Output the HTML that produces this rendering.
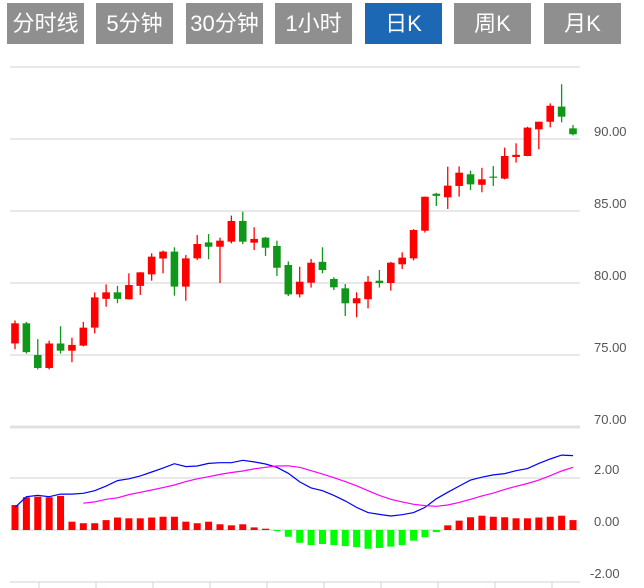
<!DOCTYPE html>
<html><head><meta charset="utf-8"><style>
body{margin:0;background:#fff;width:644px;height:588px;overflow:hidden;font-family:"Liberation Sans","Noto Sans CJK SC",sans-serif}
.tab{position:absolute;top:3px;height:41px;width:77px;background:#8f8f8f;color:#fff;font-size:22px;line-height:41px;text-align:center}
.tab.on{background:#1c68b4}
svg{position:absolute;left:0;top:0}
</style></head><body>
<div class="tab" style="left:7px">分时线</div>
<div class="tab" style="left:96px">5分钟</div>
<div class="tab" style="left:186px">30分钟</div>
<div class="tab" style="left:275px">1小时</div>
<div class="tab on" style="left:365px">日K</div>
<div class="tab" style="left:454px">周K</div>
<div class="tab" style="left:544px">月K</div>
<svg id="c" width="644" height="588"></svg>
<script>
const opens=[75.8,77.2,75.0,74.1,75.8,75.3,75.65,76.9,78.9,79.35,78.87,79.8,80.6,81.7,82.18,79.75,81.71,82.82,82.52,82.87,84.31,82.8,83.15,82.57,81.25,79.21,80.02,81.47,80.28,79.63,78.59,78.87,80.16,80.0,81.3,81.71,83.63,86.2,85.95,86.74,87.55,86.82,87.39,87.25,88.75,88.82,90.67,91.2,92.25,90.74];
const closes=[77.2,75.2,74.1,75.8,75.3,75.7,76.9,79.0,79.35,78.9,79.86,80.74,81.83,82.18,79.75,81.71,82.71,82.52,82.94,84.31,82.87,83.06,82.45,81.06,79.21,80.09,81.41,80.9,79.7,78.59,78.94,80.09,80.0,81.41,81.76,83.68,85.99,86.05,86.76,87.66,86.85,87.2,87.32,88.82,88.9,90.79,91.2,92.31,91.55,90.33];
const highs=[77.4,77.3,76.1,76.0,77.0,76.2,77.3,79.35,79.9,79.8,80.67,80.75,82.06,82.25,82.48,81.94,83.33,83.4,83.15,84.68,84.95,83.87,83.2,82.94,81.5,81.13,81.67,82.48,80.4,79.93,79.35,80.49,80.9,81.47,82.13,83.74,86.0,86.26,88.08,88.1,87.8,88.0,88.12,89.4,89.7,90.85,91.2,92.47,93.8,90.97];
const lows=[75.4,75.1,74.0,74.0,75.1,74.5,75.6,76.5,78.35,78.6,78.85,79.17,80.16,80.67,79.12,78.77,81.6,81.65,80.0,82.75,82.7,82.29,81.88,80.49,79.1,79.0,79.68,80.67,79.51,77.71,77.62,78.24,79.68,79.47,80.97,81.57,83.5,85.35,85.14,86.0,86.46,86.3,86.74,87.2,88.36,88.8,89.28,90.81,91.16,90.25];
const macdHist=[0.96,1.26,1.28,1.26,1.31,0.32,0.26,0.26,0.38,0.48,0.45,0.45,0.48,0.51,0.51,0.32,0.26,0.32,0.22,0.18,0.22,0.10,0.05,-0.02,-0.26,-0.49,-0.58,-0.54,-0.58,-0.62,-0.66,-0.72,-0.69,-0.64,-0.58,-0.41,-0.28,-0.08,0.18,0.36,0.49,0.55,0.51,0.49,0.45,0.45,0.48,0.51,0.55,0.38];
const difLine=[0.87,1.28,1.33,1.28,1.38,1.38,1.41,1.51,1.69,1.90,1.97,2.08,2.23,2.38,2.55,2.44,2.46,2.56,2.59,2.59,2.68,2.62,2.54,2.41,2.18,1.85,1.62,1.51,1.33,1.12,0.87,0.67,0.60,0.54,0.59,0.67,0.87,1.20,1.45,1.69,1.92,2.03,2.12,2.17,2.28,2.36,2.56,2.73,2.88,2.86];
const deaLine=[null,null,null,null,null,null,1.03,1.08,1.18,1.24,1.36,1.45,1.54,1.63,1.73,1.86,1.97,2.05,2.14,2.21,2.27,2.35,2.41,2.46,2.47,2.41,2.28,2.15,2.01,1.86,1.70,1.51,1.33,1.18,1.08,0.99,0.94,0.91,0.96,1.06,1.18,1.31,1.42,1.56,1.68,1.79,1.92,2.09,2.27,2.41];
const priceTicks=[70,75,80,85,90,95];
const macdTicks=[-2,0,2];
const NS="http://www.w3.org/2000/svg";
const svg=document.getElementById('c');
const N=opens.length;
const xAt=i=>15+i*(558/(N-1));
const yP=v=>427-(v-70)*14.4;
const yM=v=>530-v*26;
function mk(t,a,p){const e=document.createElementNS(NS,t);for(const k in a)e.setAttribute(k,a[k]);(p||svg).appendChild(e);return e;}
// price grid
priceTicks.forEach(t=>{
  const l=mk('line',{x1:10,x2:580,y1:yP(t),y2:yP(t),stroke:'#e0e0e0','stroke-width':t===70?3:1.5});
  
  
  if(t<95){const tx=mk('text',{x:594,y:yP(t)-3,'font-size':13,fill:'#555','font-family':'Liberation Sans, sans-serif'});tx.textContent=t.toFixed(2);
  
  }
});
macdTicks.forEach(t=>{
  const l=mk('line',{x1:10,x2:580,y1:yM(t),y2:yM(t),stroke:'#e0e0e0','stroke-width':1.5});
  
  
  const tx=mk('text',{x:t<0?590:594,y:yM(t)-4,'font-size':13,fill:'#555','font-family':'Liberation Sans, sans-serif'});tx.textContent=t.toFixed(2);
  
  
});
// x ticks
for(let k=0;k<10;k++){const x=39+k*57;const l=mk('line',{x1:x,x2:x,y1:582,y2:588,stroke:'#c8d4e0','stroke-width':1});

}
// candles
for(let i=0;i<N;i++){
  const up=closes[i]>=opens[i];const col=up?'#ff0000':'#109618';const x=xAt(i);
  const g=mk('g',{});
  
  
  mk('line',{x1:x,x2:x,y1:yP(highs[i]),y2:yP(lows[i]),stroke:col,'stroke-width':1.3},g);
  const t=yP(Math.max(opens[i],closes[i])),b=yP(Math.min(opens[i],closes[i]));
  mk('rect',{x:x-3.8,y:t,width:7.6,height:Math.max(b-t,1.2),fill:col},g);
}
// macd hist
for(let i=0;i<N;i++){
  const v=macdHist[i];const x=xAt(i);const y0=yM(0),y1=yM(v);
  const r=mk('rect',{x:x-3.5,y:Math.min(y0,y1),width:7,height:Math.max(Math.abs(y1-y0),1),fill:v>=0?'#ff0000':'#00ff00'});
  
  
}
function line(arr,col,name){let d='';arr.forEach((v,i)=>{if(v==null)return;d+=(d?'L':'M')+xAt(i).toFixed(1)+','+yM(v).toFixed(1);});
  const p=mk('path',{d:d,fill:'none',stroke:col,'stroke-width':1.2});
  
  }
line(difLine,'#0000ff','dif-line');
line(deaLine,'#ff00ff','dea-line');
</script>
</body></html>
